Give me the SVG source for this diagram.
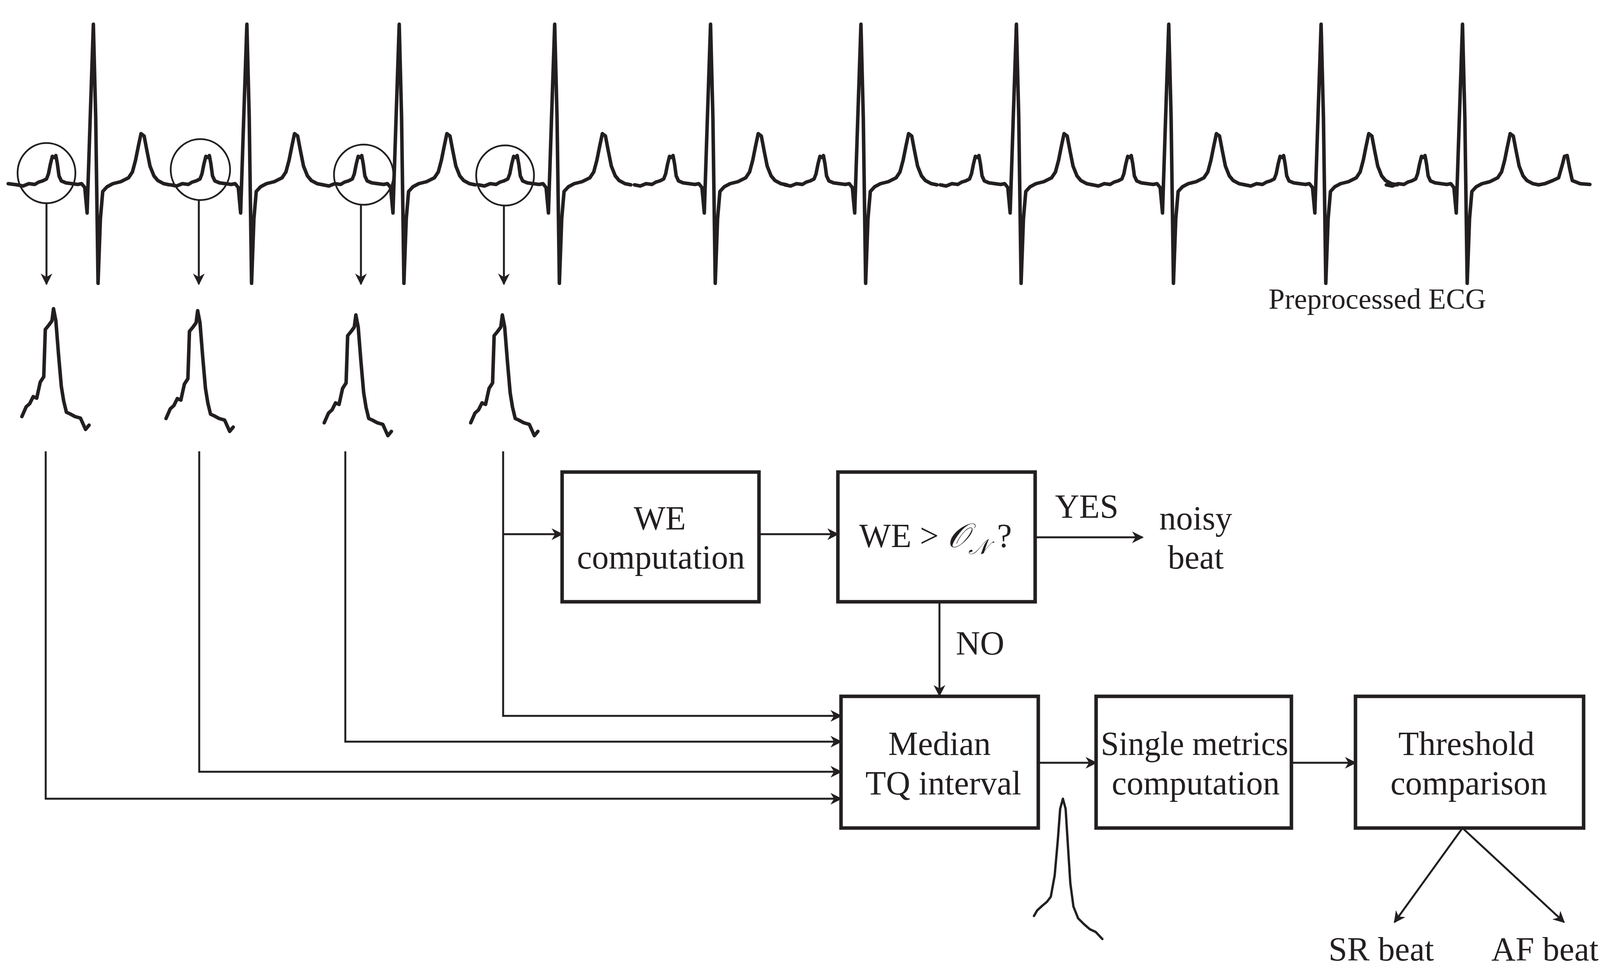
<svg xmlns="http://www.w3.org/2000/svg" xmlns:xlink="http://www.w3.org/1999/xlink" width="4163" height="2490" viewBox="0 0 4163 2490">
<style>
.sig{fill:none;stroke:#231f20;stroke-width:9;stroke-linejoin:round;stroke-linecap:round}
.box{fill:#fff;stroke:#231f20;stroke-width:9}
.ln{fill:none;stroke:#231f20;stroke-width:5}
.circ{fill:none;stroke:#231f20;stroke-width:4.5}
text{font-family:"Liberation Serif","Times New Roman",serif;font-size:86px;fill:#231f20;text-anchor:middle}
</style>
<defs>
<marker id="ah" viewBox="0 0 20 20" refX="18" refY="10" markerWidth="34" markerHeight="30" markerUnits="userSpaceOnUse" orient="auto">
<path d="M0,0 L20,10 L0,20 L6,10 Z" fill="#231f20"/>
</marker>
<path id="beat" class="sig" d="M-195,473 L-180,476 L-165,470 L-150,472 L-140,466 L-130,463 L-120,458 L-115,445 L-110,420 L-105,400 L-100,403 L-96,398 L-92,420 L-88,450 L-82,463 L-70,468 L-55,470 L-40,472 L-30,470 L-22,480 L-16,545 L-8,300 L0,62 L6,300 L12,725 L18,560 L24,490 L35,478 L50,470 L70,465 L90,455 L100,440 L108,410 L115,375 L122,342 L130,348 L137,385 L145,425 L155,450 L165,462 L180,470 L195,473"/>
<path id="clip" class="sig" d="M-81,276 L-70,251 L-61,243 L-52,225 L-43,229 L-34,188 L-25,174 L-21,53 L-12,42 L-4,31 L0,0 L6,31 L13,119 L20,199 L26,236 L33,265 L42,269 L55,276 L69,280 L82,309 L91,298"/>
</defs>
<g id="ecg">
<path class="sig" d="M21,470 L44,473"/>
<use href="#beat" x="239"/>
<use href="#beat" x="632"/>
<use href="#beat" x="1022"/>
<use href="#beat" x="1420"/>
<use href="#beat" x="1819"/>
<use href="#beat" x="2204"/>
<use href="#beat" x="2602"/>
<use href="#beat" x="2992"/>
<use href="#beat" x="3382"/>
<use href="#beat" x="3744"/>
<path class="sig" d="M3939,473 L3955,470 L3975,462 L3990,455 L4000,420 L4005,400 L4012,398 L4018,430 L4025,462 L4045,470 L4070,472"/>
<text x="3526" y="790" style="font-size:74px">Preprocessed ECG</text>
</g>
<g id="circles">
<ellipse class="circ" cx="119" cy="443" rx="74" ry="77"/>
<ellipse class="circ" cx="513" cy="434" rx="76" ry="78"/>
<ellipse class="circ" cx="931" cy="447" rx="76" ry="77"/>
<ellipse class="circ" cx="1293" cy="449" rx="74" ry="77"/>
</g>
<g id="clips">
<use href="#clip" x="137" y="790"/>
<use href="#clip" x="506" y="795"/>
<use href="#clip" x="911" y="806"/>
<use href="#clip" x="1286" y="806"/>
<path class="sig" style="stroke-width:6" d="M2647,2344 L2655,2330 L2668,2318 L2680,2308 L2690,2295 L2700,2240 L2708,2150 L2714,2070 L2721,2044 L2728,2070 L2733,2150 L2740,2260 L2748,2320 L2760,2350 L2775,2365 L2790,2378 L2805,2385 L2822,2403"/>
</g>
<g id="connectors">
<path class="ln" marker-end="url(#ah)" d="M119,520 L119,727"/>
<path class="ln" marker-end="url(#ah)" d="M509,512 L509,727"/>
<path class="ln" marker-end="url(#ah)" d="M924,524 L924,727"/>
<path class="ln" marker-end="url(#ah)" d="M1290,526 L1290,727"/>
<path class="ln" marker-end="url(#ah)" d="M1288,1155 L1288,1832 L2153,1832"/>
<path class="ln" marker-end="url(#ah)" d="M1288,1367 L1439,1367"/>
<path class="ln" marker-end="url(#ah)" d="M884,1155 L884,1898 L2153,1898"/>
<path class="ln" marker-end="url(#ah)" d="M510,1155 L510,1975 L2153,1975"/>
<path class="ln" marker-end="url(#ah)" d="M117,1155 L117,2044 L2153,2044"/>
<path class="ln" marker-end="url(#ah)" d="M1943,1367 L2145,1367"/>
<path class="ln" marker-end="url(#ah)" d="M2650,1375 L2925,1375"/>
<path class="ln" marker-end="url(#ah)" d="M2405,1540 L2405,1780"/>
<path class="ln" marker-end="url(#ah)" d="M2658,1952 L2806,1952"/>
<path class="ln" marker-end="url(#ah)" d="M3306,1952 L3470,1952"/>
<path class="ln" marker-end="url(#ah)" d="M3744,2119 L3570,2360"/>
<path class="ln" marker-end="url(#ah)" d="M3744,2119 L4004,2360"/>
<text x="2782" y="1325">YES</text>
<text x="2509" y="1675">NO</text>
</g>
<g id="we">
<rect class="box" x="1439" y="1208" width="504" height="332"/>
<text x="1689" y="1355">WE</text>
<text x="1692" y="1455">computation</text>
</g>
<g id="decision">
<rect class="box" x="2145" y="1208" width="505" height="332"/>
<text x="2395" y="1400">WE &gt; <tspan font-style="italic">𝒪</tspan><tspan font-style="italic" font-size="54" dy="18">𝒩</tspan><tspan dy="-18"> ?</tspan></text>
</g>
<g id="noisy">
<text x="3061" y="1355">noisy</text>
<text x="3061" y="1455">beat</text>
</g>
<g id="median">
<rect class="box" x="2153" y="1782" width="505" height="337"/>
<text x="2405" y="1932">Median</text>
<text x="2415" y="2033">TQ interval</text>
</g>
<g id="single">
<rect class="box" x="2806" y="1782" width="500" height="337"/>
<text x="3058" y="1932" textLength="480" lengthAdjust="spacingAndGlyphs">Single metrics</text>
<text x="3061" y="2033">computation</text>
</g>
<g id="threshold">
<rect class="box" x="3470" y="1782" width="584" height="337"/>
<text x="3754" y="1932">Threshold</text>
<text x="3760" y="2033">comparison</text>
</g>
<g id="outputs">
<text x="3536" y="2458">SR beat</text>
<text x="3955" y="2458">AF beat</text>
</g>
</svg>
